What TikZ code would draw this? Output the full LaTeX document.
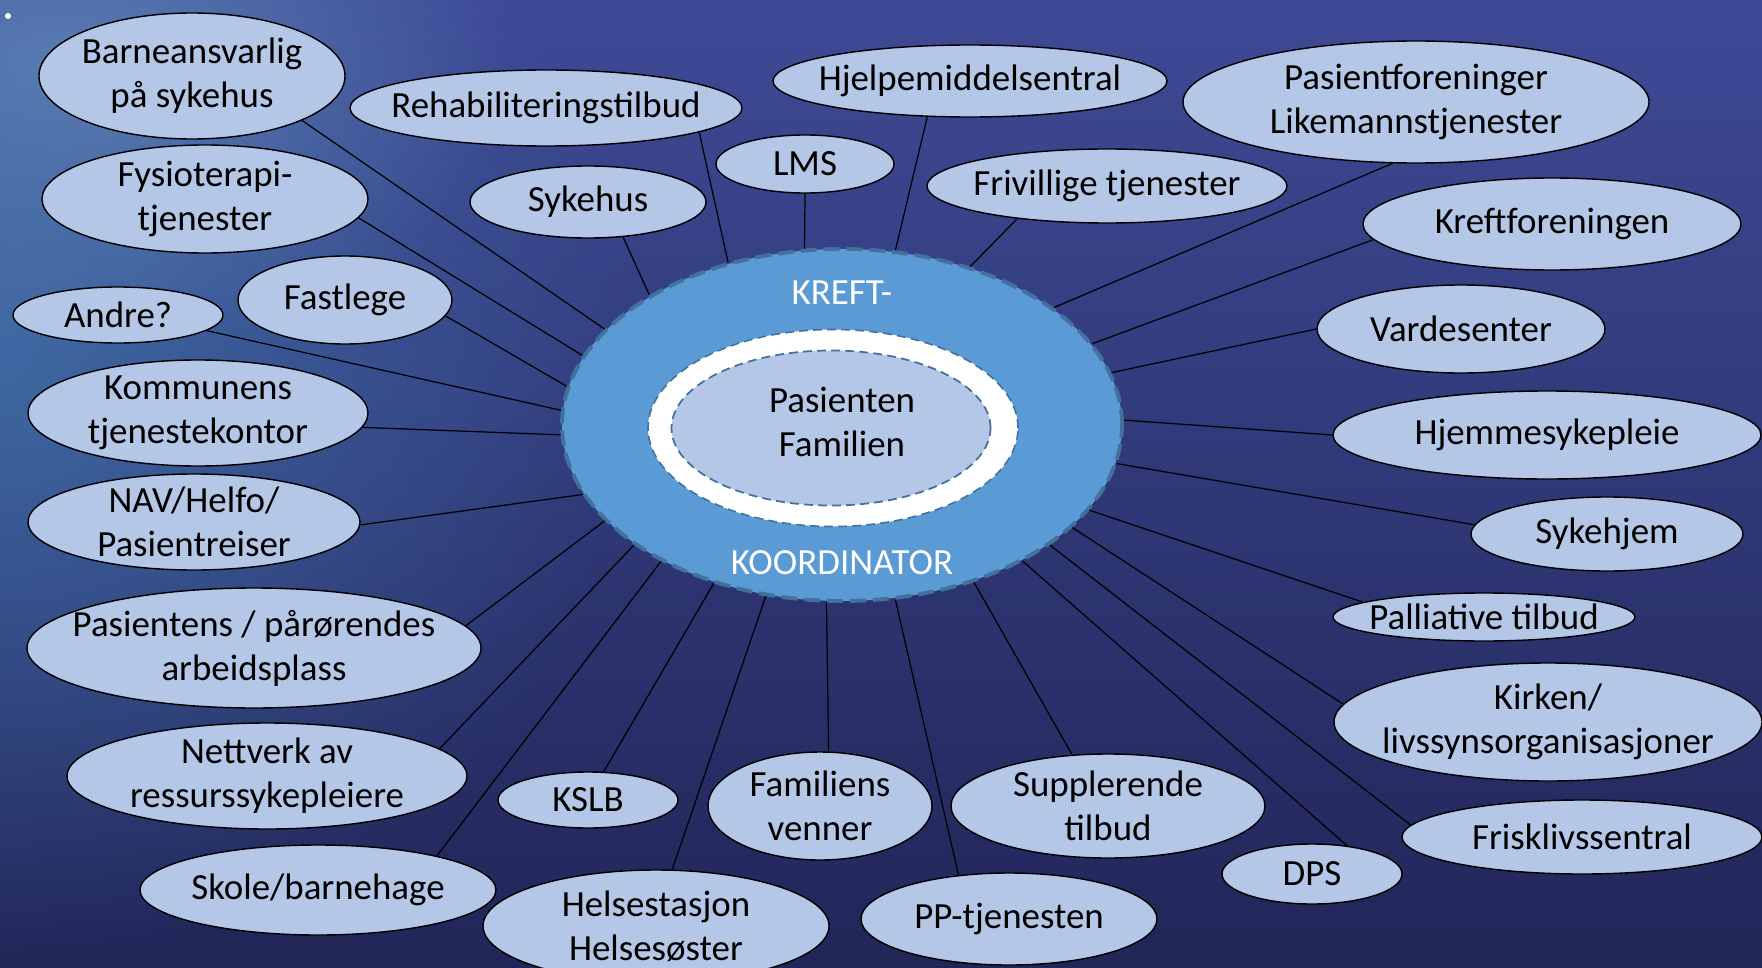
\documentclass[tikz,border=0pt]{standalone}
\usepackage{fontspec}
\setmainfont{Carlito}
\usetikzlibrary{shapes.geometric,fadings}

\definecolor{felfill}{RGB}{180,199,231}
\definecolor{ringblue}{RGB}{91,155,213}
\definecolor{ringdash}{RGB}{65,113,156}
\definecolor{bgtop}{RGB}{62,74,150}
\definecolor{bgbot}{RGB}{33,38,88}
\definecolor{bgglow}{RGB}{68,122,178}
\definecolor{bgshine}{RGB}{110,150,195}
\tikzfading[name=softglow, inner color=transparent!30, outer color=transparent!100]
\tikzfading[name=faintglow, inner color=transparent!45, outer color=transparent!100]

\begin{document}
\begin{tikzpicture}[
  x=0.2mm, y=-0.2mm,
  font=\fontsize{21}{25}\selectfont,
  fel/.style 2 args={ellipse, draw=black, line width=0.8pt, fill=felfill, inner sep=0pt,
    minimum width=#1cm, minimum height=#2cm},
  txt/.style={align=center, inner sep=0pt, text=black},
  lnk/.style={line width=0.7pt, black},
  ringe/.style={ellipse, fill=ringblue, draw=ringdash, line width=2.2pt, dash pattern=on 9pt off 4pt,
    minimum width=11.2cm, minimum height=7.04cm},
  wringe/.style={ellipse, fill=white, draw=ringdash, line width=0.9pt, dash pattern=on 5pt off 3pt,
    minimum width=7.4cm, minimum height=3.94cm},
  kjerne/.style={ellipse, fill=felfill, draw=ringdash, line width=1pt, dash pattern=on 5pt off 3pt,
    minimum width=6.38cm, minimum height=3.1cm},
  hvit/.style={text=white, inner sep=0pt}
]

\useasboundingbox (0,0) rectangle (1762,967);
\clip (0,0) rectangle (1762,967);

% Background
\shade[top color=bgtop, bottom color=bgbot] (0,0) rectangle (1762,967);
\fill[bgglow, path fading=softglow] (0,360) ellipse (13cm and 12cm);
\fill[bgshine, path fading=faintglow] (60,60) ellipse (9cm and 6cm);
\fill[white] (8,16) circle (0.06cm);

% Centre
\node[ringe] (ring) at (842,425) {};
\node[wringe] (wring) at (833,428) {};
\node[kjerne] (pas) at (831,428) {};
\node[txt] (pastxt) at (842,422) {Pasienten\\Familien};
\node[hvit] (kreft) at (842,293) {KREFT-};
\node[hvit] (koord) at (842,563) {KOORDINATOR};

% Left side
\node[fel={6.12}{2.52}, label={[txt]center:Barneansvarlig\\på sykehus}] (barn) at (192,76) {};
\node[fel={6.52}{2.16}, label={[txt]center:Fysioterapi-\\tjenester}] (fysio) at (205,199) {};
\node[fel={4.28}{1.76}, label={[txt]center:Fastlege}] (fastlege) at (345,300) {};
\node[fel={4.2}{1.12}, label={[txt]center:Andre?}] (andre) at (118,315) {};
\node[fel={6.8}{2.12}, label={[txt]center:Kommunens\\tjenestekontor}] (kommune) at (198,413) {};
\node[fel={6.64}{1.92}, label={[txt]center:NAV/Helfo/\\Pasientreiser}] (nav) at (194,522) {};
\node[fel={9.08}{2.4}, label={[txt]center:Pasientens / pårørendes\\arbeidsplass}] (arbeid) at (254,648) {};
\node[fel={8.0}{2.12}, label={[txt]center:Nettverk av\\ressurssykepleiere}] (nettverk) at (267,776) {};
\node[fel={7.12}{1.8}, label={[txt]center:Skole/barnehage}] (skole) at (318,890) {};

% Top
\node[fel={7.84}{1.52}, label={[txt]center:Rehabiliteringstilbud}] (rehab) at (546,108) {};
\node[fel={4.72}{1.44}, label={[txt]center:Sykehus}] (sykehus) at (588,202) {};
\node[fel={3.56}{1.16}, label={[txt]center:LMS}] (lms) at (805,164) {};
\node[fel={7.88}{1.44}, label={[txt]center:Hjelpemiddelsentral}] (hjelp) at (970,81) {};
\node[fel={7.2}{1.48}, label={[txt]center:Frivillige tjenester}] (friv) at (1107,186) {};
\node[fel={9.32}{2.44}, label={[txt]center:Pasientforeninger\\Likemannstjenester}] (pasfor) at (1416,102) {};

% Right side
\node[fel={7.56}{1.84}, label={[txt]center:Kreftforeningen}] (kreftf) at (1552,224) {};
\node[fel={5.76}{1.76}, label={[txt]center:Vardesenter}] (varde) at (1461,329) {};
\node[fel={8.56}{1.76}, label={[txt]center:Hjemmesykepleie}] (hjemme) at (1547,435) {};
\node[fel={5.44}{1.48}, label={[txt]center:Sykehjem}] (sykehjem) at (1607,534) {};
\node[fel={6.04}{0.96}, label={[txt]center:Palliative tilbud}] (palliativ) at (1484,617) {};
\node[fel={8.56}{2.36}, label={[txt]center:Kirken/\\livssynsorganisasjoner}] (kirken) at (1548,722) {};
\node[fel={7.2}{1.48}, label={[txt]center:Frisklivssentral}] (frisk) at (1582,837) {};

% Bottom
\node[fel={3.6}{1.12}, label={[txt]center:KSLB}] (kslb) at (588,800) {};
\node[fel={4.48}{2.16}, label={[txt]center:Familiens\\venner}] (venner) at (820,806) {};
\node[fel={6.28}{2.08}, label={[txt]center:Supplerende\\tilbud}] (suppl) at (1108,806) {};
\node[fel={3.6}{1.2}, label={[txt]center:DPS}] (dps) at (1312,874) {};
\node[fel={6.92}{2.24}, label={[txt]center:Helsestasjon\\Helsesøster}] (helse) at (656,926) {};
\node[fel={5.92}{1.84}, label={[txt]center:PP-tjenesten}] (pp) at (1009,919) {};

% Connectors: node/start angle/ring angle
\foreach \n/\a/\r in {barn/338/158, rehab/351/125, hjelp/220/73, pasfor/249/29,
  lms/270/102, sykehus/315/146, fysio/353/165, friv/200/51, kreftf/185/18,
  fastlege/351/172, andre/350/177, varde/180/11, kommune/355/182, hjemme/180/1,
  nav/359/195, sykehjem/176/352, arbeid/6/202, palliativ/173/341, kirken/175/336,
  nettverk/9/210, kslb/61/231, venner/81/265, suppl/125/310, frisk/176/330,
  dps/39/323, skole/16/217, helse/74/246, pp/139/287}
  \draw[lnk] (\n.\a) -- (ring.\r);

\end{tikzpicture}
\end{document}
